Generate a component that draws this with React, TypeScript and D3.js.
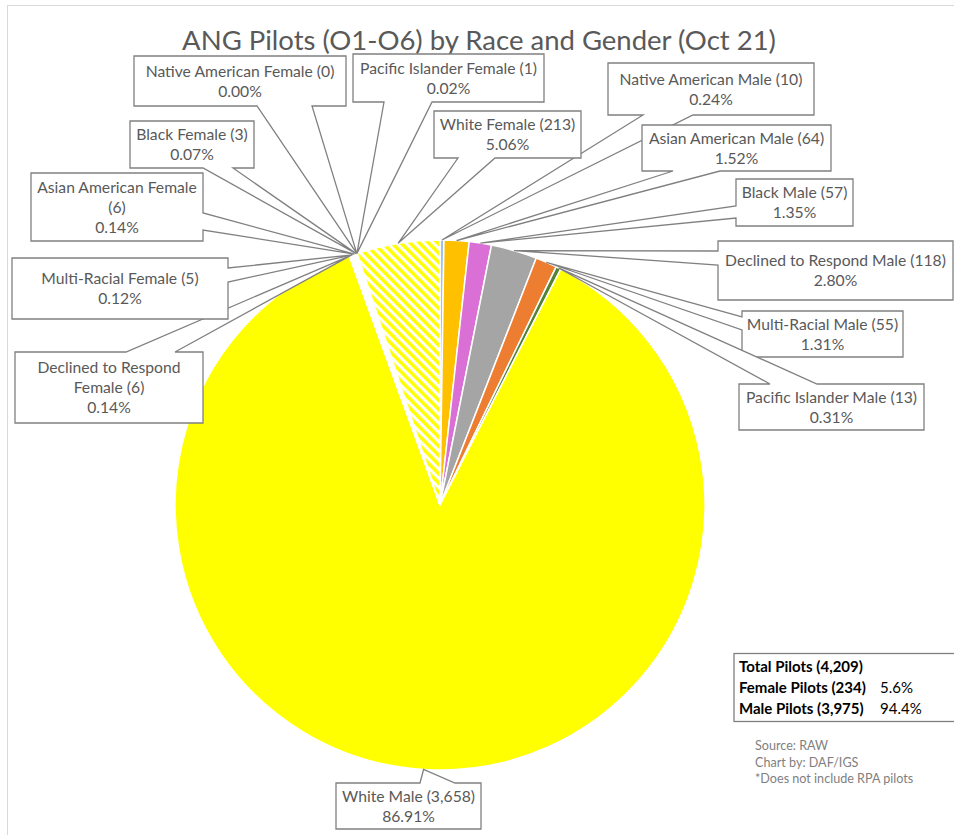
import React from "react"
import * as d3 from "d3"

// slice order follows the workbook: males clockwise from 12 o'clock, then females
const categories = [
  "Native American Male",
  "Asian American Male",
  "Black Male",
  "Declined to Respond Male",
  "Multi-Racial Male",
  "Pacific Islander Male",
  "White Male",
  "Declined to Respond Female",
  "Multi-Racial Female",
  "Asian American Female",
  "Black Female",
  "Native American Female",
  "Pacific Islander Female",
  "White Female",
]
const counts = [10, 64, 57, 118, 55, 13, 3658, 6, 5, 6, 3, 0, 1, 213]
const sourceNotes = ["Source: RAW", "Chart by: DAF/IGS", "*Does not include RPA pilots"]
const title = "ANG Pilots (O1-O6) by Race and Gender (Oct 21)"

const fills = [
  "#9dc3e6", "#ffc000", "#da70d6", "#a5a5a5", "#ed7d31", "#548235", "#ffff00",
  "#ffffff", "#ffffff", "#ffffff", "#ffffff", "#ffffff", "#ffffff", "url(#hatch)",
]

// callout boxes were hand placed in the original, so keep them as layout
// [x0, y0, x1, y1, side the wedge leaves from, wedge start, wedge end, words on first line]
const callouts: [number, number, number, number, string, number, number, number?][] = [
  [608, 63, 814, 115, "bottom", 643, 693],
  [642, 125, 831, 171, "bottom", 673, 720],
  [736, 179, 853, 226, "left", 206, 218],
  [718, 241, 953, 300, "left", 251, 265],
  [742, 311, 903, 357, "left", 317, 330],
  [739, 384, 924, 430, "top", 770, 817],
  [336, 783, 481, 829, "top", 420, 455],
  [15, 352, 203, 423, "top", 126, 175, 3],
  [12, 258, 228, 319, "right", 268, 282],
  [31, 173, 203, 241, "right", 213, 230, 3],
  [130, 121, 254, 168, "bottom", 203, 233],
  [134, 56, 346, 106, "bottom", 257, 312],
  [353, 54, 544, 102, "bottom", 384, 432],
  [434, 111, 581, 158, "bottom", 458, 495],
]

const cx = 440
const cy = 505
const radius = 265
const font = "Lato, 'Noto Sans', sans-serif"
const textColor = "#595959"

function calloutPath(c, px, py) {
  const [x0, y0, x1, y1, side, a, b] = c
  let p = `M${x0},${y0}`
  if (side === "top") p += `L${a},${y0}L${px},${py}L${b},${y0}`
  p += `L${x1},${y0}`
  if (side === "right") p += `L${x1},${a}L${px},${py}L${x1},${b}`
  p += `L${x1},${y1}`
  if (side === "bottom") p += `L${b},${y1}L${px},${py}L${a},${y1}`
  p += `L${x0},${y1}`
  if (side === "left") p += `L${x0},${b}L${px},${py}L${x0},${a}`
  return p + "Z"
}

export default function App() {
  const total = d3.sum(counts)
  const female = d3.sum(counts.filter((d, i) => categories[i].endsWith("Female")))
  const male = total - female
  const pct = d3.format(".2%")
  const pct1 = d3.format(".1%")
  const num = d3.format(",")

  const pie = d3.pie<number>().sort(null).value((d) => d)
  const arcs = pie(counts)
  const arc = d3.arc<d3.PieArcDatum<number>>().innerRadius(0).outerRadius(radius)

  return (
    <svg width={954} height={835} style={{ position: "absolute", left: 0, top: 0, background: "#fff" }}>
      <defs>
        <pattern id="hatch" patternUnits="userSpaceOnUse" width={6.5} height={6.5} patternTransform="rotate(-45)">
          <rect width={6.5} height={6.5} fill="#fff" />
          <rect width={3.5} height={6.5} fill="#ffff00" />
        </pattern>
      </defs>
      <rect x={7.5} y={5.5} width={960} height={840} fill="#fff" stroke="#d9d9d9" />
      <text x={479} y={50} textAnchor="middle" fontFamily={font} fontSize={27.5} fill={textColor}>
        {title}
      </text>

      <g transform={`translate(${cx},${cy})`}>
        {arcs.map((d, i) => (
          <path key={i} d={arc(d) || ""} fill={fills[i]} stroke="#fff" strokeWidth={1.5} />
        ))}
      </g>

      {arcs.map((d, i) => {
        const c = callouts[i]
        const mid = (d.startAngle + d.endAngle) / 2
        const px = cx + radius * Math.sin(mid)
        const py = cy - radius * Math.cos(mid)
        const words = `${categories[i]} (${num(counts[i])})`.split(" ")
        const lines = c[7]
          ? [words.slice(0, c[7]).join(" "), words.slice(c[7]).join(" ")]
          : [words.join(" ")]
        lines.push(pct(counts[i] / total))
        const tx = (c[0] + c[2]) / 2
        const ty = (c[1] + c[3]) / 2
        return (
          <g key={"c" + i}>
            <path d={calloutPath(c, px, py)} fill="#fff" stroke="#808080" strokeWidth={1.3} />
            <text textAnchor="middle" fontFamily={font} fontSize={15.7} fill={textColor}>
              {lines.map((l, j) => (
                <tspan key={j} x={tx} y={ty + (j - (lines.length - 1) / 2) * 20 + 5.5}>
                  {l}
                </tspan>
              ))}
            </text>
          </g>
        )
      })}

      <g fontFamily={font} fontSize={15} fill="#000">
        <rect x={734} y={653.5} width={230} height={68} fill="#fff" stroke="#808080" strokeWidth={1.3} />
        <text x={739} y={672} fontWeight="bold">Total Pilots ({num(total)})</text>
        <text x={739} y={693} fontWeight="bold">Female Pilots ({num(female)})</text>
        <text x={880} y={693}>{pct1(female / total)}</text>
        <text x={739} y={714} fontWeight="bold">Male Pilots ({num(male)})</text>
        <text x={880} y={714}>{pct1(male / total)}</text>
      </g>
      <g fontFamily={font} fontSize={12.6} fill="#7f7f7f">
        {sourceNotes.map((s, i) => (
          <text key={i} x={755} y={750 + i * 16.5}>{s}</text>
        ))}
      </g>
    </svg>
  )
}
